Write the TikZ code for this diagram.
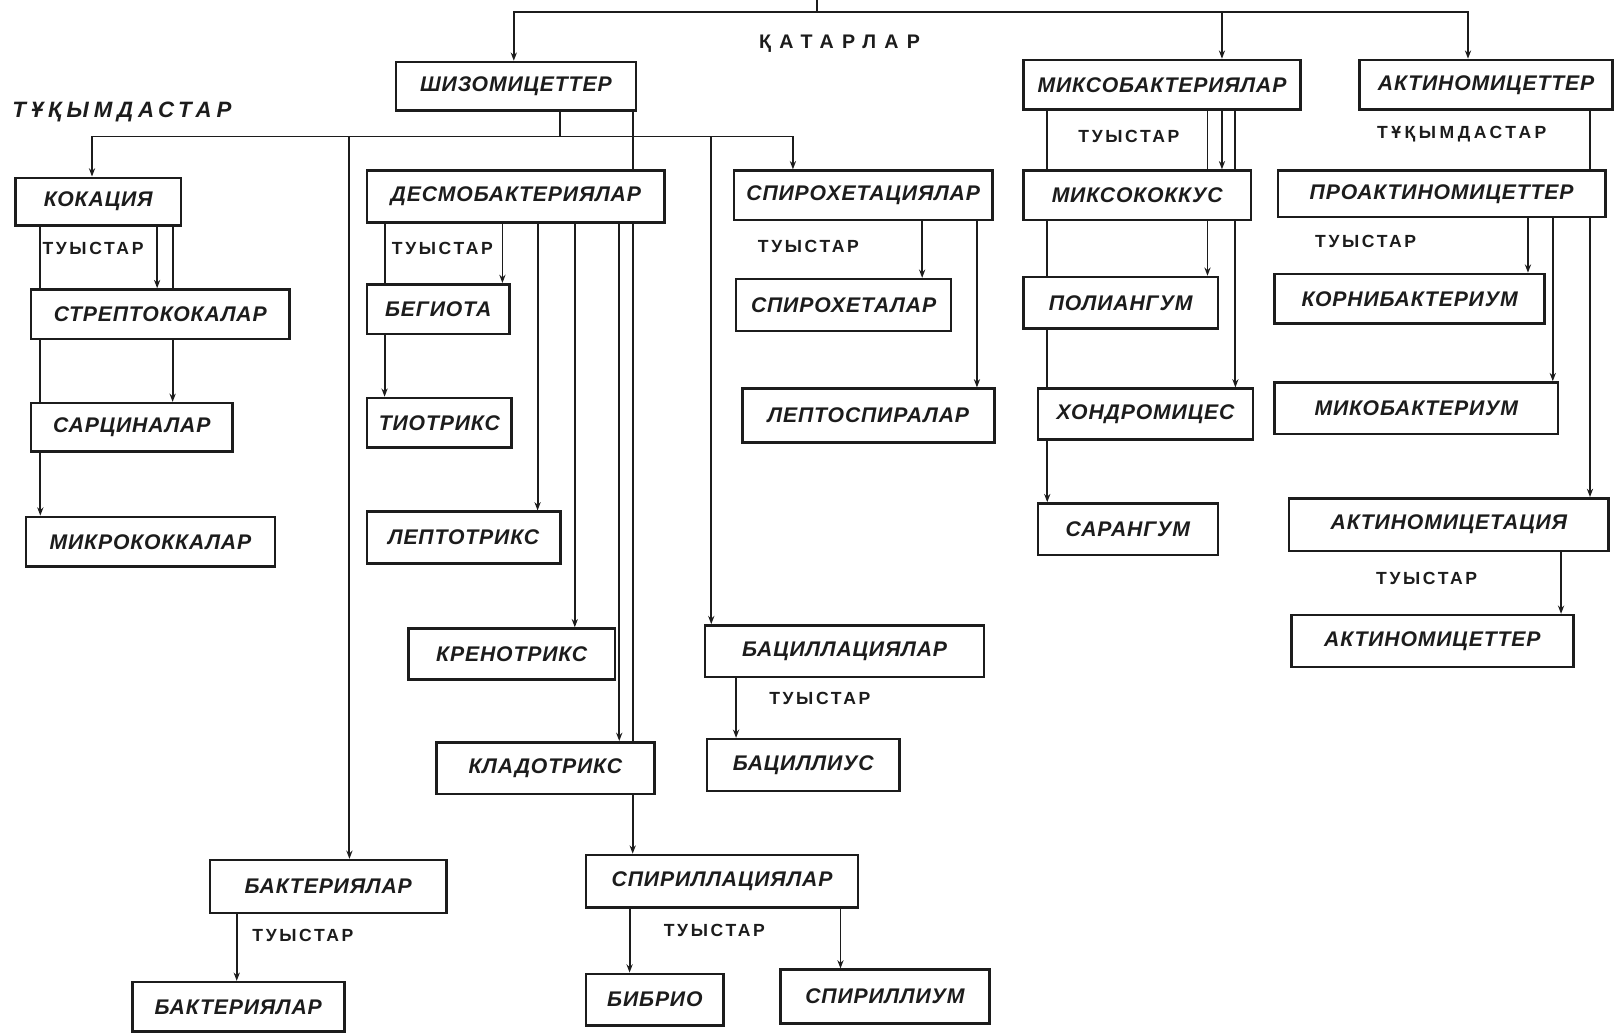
\documentclass[tikz,border=0pt]{standalone}
\usepackage{fontspec}
\setmainfont{Liberation Sans}
\usetikzlibrary{arrows.meta,backgrounds}
\definecolor{ink}{HTML}{1C1C1C}
\begin{document}
\begin{tikzpicture}[x=1pt,y=-1pt,
  box/.style={draw=ink, line width=2.5pt, fill=white, inner sep=0pt, text=ink,
    font=\bfseries\itshape\fontsize{20.5}{24}\selectfont\addfontfeature{LetterSpace=4}},
  ln/.style={draw=ink, line width=1.8pt, line cap=rect},
  arr/.style={draw=ink, line width=1.8pt, -{Stealth[length=8pt,width=6pt]}},
  tuys/.style={inner sep=0pt, text=ink, font=\bfseries\fontsize{17}{20}\selectfont\addfontfeature{LetterSpace=15}},
  tukup/.style={inner sep=0pt, text=ink, font=\bfseries\fontsize{17}{20}\selectfont\addfontfeature{LetterSpace=20}},
  tukit/.style={inner sep=0pt, text=ink, font=\bfseries\itshape\fontsize{21.5}{24}\selectfont\addfontfeature{LetterSpace=22}},
  katar/.style={inner sep=0pt, text=ink, font=\bfseries\fontsize{19}{22}\selectfont\addfontfeature{LetterSpace=42}},
]
\useasboundingbox (0,0) rectangle (1568,1001);

% ---- boxes ----
\node[box,minimum width=232pt,minimum height=47pt] (shiz)    at (499,83.5)   {ШИЗОМИЦЕТТЕР};
\node[box,minimum width=268pt,minimum height=48pt] (miksob)  at (1124,82)    {МИКСОБАКТЕРИЯЛАР};
\node[box,minimum width=245pt,minimum height=48pt] (aktin)   at (1437.5,82)  {АКТИНОМИЦЕТТЕР};
\node[box,minimum width=160pt,minimum height=46pt] (kok)     at (95,195)     {КОКАЦИЯ};
\node[box,minimum width=288pt,minimum height=50pt] (desmo)   at (499,190)    {ДЕСМОБАКТЕРИЯЛАР};
\node[box,minimum width=250pt,minimum height=48pt] (spirohf) at (835,189)    {СПИРОХЕТАЦИЯЛАР};
\node[box,minimum width=220pt,minimum height=48pt] (miksokok) at (1100,189)  {МИКСОКОККУС};
\node[box,minimum width=317pt,minimum height=45pt] (proakt)  at (1394.5,187.5) {ПРОАКТИНОМИЦЕТТЕР};
\node[box,minimum width=250pt,minimum height=48pt] (strep)   at (155,304)    {СТРЕПТОКОКАЛАР};
\node[box,minimum width=138pt,minimum height=48pt] (begg)    at (424,299)    {БЕГИОТА};
\node[box,minimum width=208pt,minimum height=50pt] (spirohg) at (816,295)    {СПИРОХЕТАЛАР};
\node[box,minimum width=188pt,minimum height=50pt] (poliang) at (1084,293)   {ПОЛИАНГУМ};
\node[box,minimum width=261pt,minimum height=48pt] (korni)   at (1363.5,289) {КОРНИБАКТЕРИУМ};
\node[box,minimum width=195pt,minimum height=47pt] (sarc)    at (127.5,413.5) {САРЦИНАЛАР};
\node[box,minimum width=140pt,minimum height=48pt] (tiotr)   at (425,409)    {ТИОТРИКС};
\node[box,minimum width=244pt,minimum height=52pt] (leptosp) at (840,402)    {ЛЕПТОСПИРАЛАР};
\node[box,minimum width=208pt,minimum height=49pt] (hondr)   at (1108,400.5) {ХОНДРОМИЦЕС};
\node[box,minimum width=274pt,minimum height=50pt] (mikobakt) at (1370,395)  {МИКОБАКТЕРИУМ};
\node[box,minimum width=241pt,minimum height=48pt] (mikrok)  at (145.5,524)  {МИКРОКОККАЛАР};
\node[box,minimum width=187pt,minimum height=50pt] (leptotr) at (448.5,520)  {ЛЕПТОТРИКС};
\node[box,minimum width=174pt,minimum height=50pt] (sarang)  at (1091,512)   {САРАНГУМ};
\node[box,minimum width=309pt,minimum height=51pt] (aktfam)  at (1401.5,507.5) {АКТИНОМИЦЕТАЦИЯ};
\node[box,minimum width=200pt,minimum height=49pt] (krenotr) at (495,632.5)  {КРЕНОТРИКС};
\node[box,minimum width=270pt,minimum height=50pt] (bacfam)  at (817,630)    {БАЦИЛЛАЦИЯЛАР};
\node[box,minimum width=273pt,minimum height=50pt] (aktg)    at (1385.5,620) {АКТИНОМИЦЕТТЕР};
\node[box,minimum width=211pt,minimum height=50pt] (kladotr) at (527.5,743)  {КЛАДОТРИКС};
\node[box,minimum width=186pt,minimum height=50pt] (bacg)    at (777,740)    {БАЦИЛЛИУС};
\node[box,minimum width=229pt,minimum height=51pt] (bakfam)  at (317.5,857.5) {БАКТЕРИЯЛАР};
\node[box,minimum width=263pt,minimum height=51pt] (spirfam) at (698.5,852.5) {СПИРИЛЛАЦИЯЛАР};
\node[box,minimum width=205pt,minimum height=48pt] (bakg)    at (230.5,974)  {БАКТЕРИЯЛАР};
\node[box,minimum width=133pt,minimum height=50pt] (vibrio)  at (633.5,967)  {БИБРИО};
\node[box,minimum width=202pt,minimum height=52pt] (spirg)   at (856,964)    {СПИРИЛЛИУМ};

% ---- labels ----
\node[katar] (lkat) at (812,42) {ҚАТАРЛАР};
\node[tukit] (ltuk1) at (118,108) {ТҰҚЫМДАСТАР};
\node[tukup] (ltuk2) at (1414,130) {ТҰҚЫМДАСТАР};
\node[tuys] (lt1) at (90,240) {ТУЫСТАР};
\node[tuys] (lt2) at (428,240) {ТУЫСТАР};
\node[tuys] (lt3) at (782,238) {ТУЫСТАР};
\node[tuys] (lt4) at (1092,132) {ТУЫСТАР};
\node[tuys] (lt5) at (1321,234) {ТУЫСТАР};
\node[tuys] (lt6) at (1380,560) {ТУЫСТАР};
\node[tuys] (lt7) at (793,676) {ТУЫСТАР};
\node[tuys] (lt8) at (293,905) {ТУЫСТАР};
\node[tuys] (lt9) at (691,900) {ТУЫСТАР};

% ---- coordinates of junctions ----
\coordinate (topEnd) at (790,0);
\coordinate (ordStem) at (790,12);
\coordinate (ordL) at (497,12);
\coordinate (ordM) at (1182,12);
\coordinate (ordR) at (1420,12);
\coordinate (famL) at (89,132);
\coordinate (famR) at (767,132);
\coordinate (famStem) at (542,132);
\coordinate (famB) at (338,132);
\coordinate (famC) at (688,132);

\begin{scope}[on background layer]
\fill[white] (0,0) rectangle (1568,1001);
% orders
\draw[ln] (topEnd) -- (ordStem);
\draw[ln] (ordL) -- (ordR);
\draw[arr] (ordL) -- (ordL |- shiz.north);
\draw[arr] (ordM) -- (ordM |- miksob.north);
\draw[arr] (ordR) -- (ordR |- aktin.north);
% families of schizomycetes
\draw[ln] (famStem |- shiz.south) -- (famStem);
\draw[ln] (famL) -- (famR);
\draw[arr] (famL) -- (famL |- kok.north);
\draw[arr] (famR) -- (famR |- spirohf.north);
\draw[arr] (famB) -- (famB |- bakfam.north);
\draw[arr] (famC) -- (famC |- bacfam.north);
\draw[arr] (612,0 |- shiz.south) -- (612,0 |- spirfam.north);
% kokacia
\draw[arr] (39,0 |- kok.south) -- (39,0 |- mikrok.north);
\draw[arr] (152,0 |- kok.south) -- (152,0 |- strep.north);
\draw[arr] (167,0 |- kok.south) -- (167,0 |- sarc.north);
% desmo
\draw[arr] (372,0 |- desmo.south) -- (372,0 |- tiotr.north);
\draw[arr] (486,0 |- desmo.south) -- (486,0 |- begg.north);
\draw[arr] (520,0 |- desmo.south) -- (520,0 |- leptotr.north);
\draw[arr] (556,0 |- desmo.south) -- (556,0 |- krenotr.north);
\draw[arr] (599,0 |- desmo.south) -- (599,0 |- kladotr.north);
% spirochaetaceae
\draw[arr] (892,0 |- spirohf.south) -- (892,0 |- spirohg.north);
\draw[arr] (945,0 |- spirohf.south) -- (945,0 |- leptosp.north);
% myxobacteria
\draw[arr] (1013,0 |- miksob.south) -- (1013,0 |- sarang.north);
\draw[arr] (1168,0 |- miksob.south) -- (1168,0 |- poliang.north);
\draw[arr] (1182,0 |- miksob.south) -- (1182,0 |- miksokok.north);
\draw[arr] (1195,0 |- miksob.south) -- (1195,0 |- hondr.north);
% actinomycetes
\draw[arr] (1538,0 |- aktin.south) -- (1538,0 |- aktfam.north);
\draw[arr] (1478,0 |- proakt.south) -- (1478,0 |- korni.north);
\draw[arr] (1502,0 |- proakt.south) -- (1502,0 |- mikobakt.north);
\draw[arr] (1510,0 |- aktfam.south) -- (1510,0 |- aktg.north);
% others
\draw[arr] (712,0 |- bacfam.south) -- (712,0 |- bacg.north);
\draw[arr] (229,0 |- bakfam.south) -- (229,0 |- bakg.north);
\draw[arr] (609,0 |- spirfam.south) -- (609,0 |- vibrio.north);
\draw[arr] (813,0 |- spirfam.south) -- (813,0 |- spirg.north);
\end{scope}
\end{tikzpicture}
\end{document}
